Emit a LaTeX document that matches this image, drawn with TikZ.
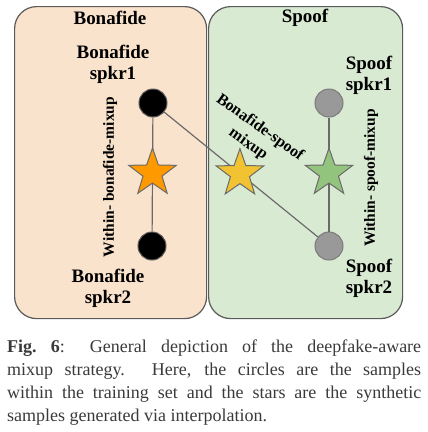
\documentclass[tikz,border=0pt]{standalone}
\usepackage{fontspec}
\setmainfont{Liberation Serif}
\usetikzlibrary{shapes.geometric,calc}
\definecolor{bonabg}{HTML}{FAE3CC}
\definecolor{spoofbg}{HTML}{D9EAD3}
\definecolor{edgegray}{HTML}{5A5A5A}
\definecolor{linegray}{HTML}{6A6A6A}
\definecolor{spoofdot}{HTML}{999999}
\definecolor{staror}{HTML}{FF9900}
\definecolor{staryel}{HTML}{F1C232}
\definecolor{stargrn}{HTML}{93C47D}
\definecolor{captxt}{HTML}{3A3A3A}
\tikzset{
  panel/.style={draw=edgegray, line width=1.2pt, rounded corners=22pt, anchor=north west, inner sep=0pt},
  dot/.style={circle, minimum size=28pt, inner sep=0pt, line width=1pt},
  bdot/.style={dot, fill=black, draw=edgegray},
  sdot/.style={dot, fill=spoofdot, draw=edgegray!80},
  mixstar/.style={star, star points=5, star point ratio=2.5, minimum size=50pt, inner sep=0pt, draw=linegray, line width=1pt},
  conn/.style={draw=linegray, line width=1.2pt},
  lbl/.style={font=\bfseries\fontsize{19}{21}\selectfont, align=center, inner sep=0pt},
  rlbl/.style={font=\bfseries\fontsize{15.5}{19}\selectfont, align=center, inner sep=0pt},
}
\begin{document}
\begin{tikzpicture}[x=1pt,y=-1pt]
\useasboundingbox (0,0) rectangle (428,432);
\node[panel, fill=bonabg, minimum width=192pt, minimum height=312pt] (bona) at (14,6) {};
\node[panel, fill=spoofbg, minimum width=194pt, minimum height=312pt] (spoof) at (208,6) {};

\node[lbl] (tb) at (110,17.5) {Bonafide};
\node[lbl] (ts) at (305,17.5) {Spoof};

\node[bdot] (b1) at (153,103) {};
\node[bdot] (b2) at (152,246) {};
\node[sdot] (s1) at (329,103) {};
\node[sdot] (s2) at (329,246) {};

\draw[conn] (b1) -- (b2);
\draw[conn] (s1) -- (s2);
\draw[conn] (b1) -- (s2);

\node[mixstar, fill=staror] (st1) at ($(b1)!0.49!(b2)$) {};
\node[mixstar, fill=stargrn] (st2) at ($(s1)!0.49!(s2)$) {};
\node[mixstar, fill=staryel] (st3) at ($(b1)!0.494!(s2)$) {};

\node[lbl] (lb1) at (113,64) {Bonafide\\spkr1};
\node[lbl] (lb2) at (108,288) {Bonafide\\spkr2};
\node[lbl] (ls1) at (369,75) {Spoof\\spkr1};
\node[lbl] (ls2) at (369,278) {Spoof\\spkr2};

\node[rlbl, rotate=90] (wb) at (110,177) {Within- bonafide-mixup};
\node[rlbl, rotate=90] (ws) at (371,178) {Within- spoof-mixup};
\node[rlbl, rotate=-35.5, font=\bfseries\fontsize{16}{20}\selectfont] (bs) at (254,136) {Bonafide-spoof\\mixup};

\node[anchor=north west, inner sep=0pt, text width=414pt, align=justify, text=captxt,
      font=\fontsize{18}{23}\selectfont] (cap) at (7,340)
  {\textbf{Fig.\ 6}: General depiction of the deepfake-aware\linebreak
   mixup strategy. Here, the circles are the samples\linebreak
   within the training set and the stars are the synthetic\linebreak
   samples generated via interpolation.};
\end{tikzpicture}
\end{document}
